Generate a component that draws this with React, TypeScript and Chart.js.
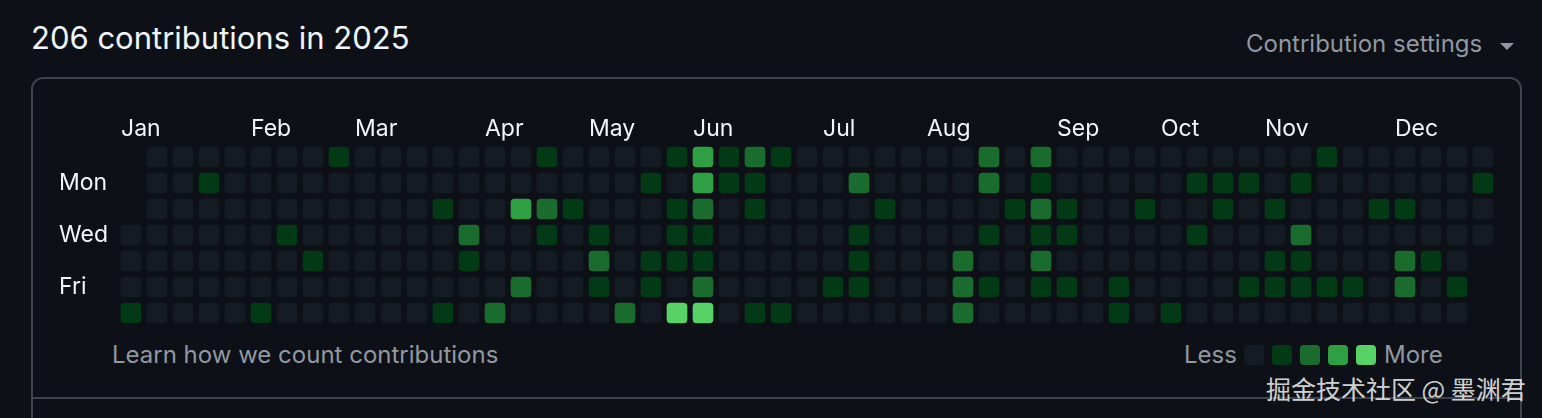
import React, { useEffect, useRef } from 'react';
import { Chart, registerables } from 'chart.js';

Chart.register(...registerables);

const TOTAL = 206;
const YEAR = 2025;
const MONTHS = ['Jan', 'Feb', 'Mar', 'Apr', 'May', 'Jun', 'Jul', 'Aug', 'Sep', 'Oct', 'Nov', 'Dec'];
const MONTH_START_WEEK = [0, 5, 9, 14, 18, 22, 27, 31, 36, 40, 44, 49];
const DAY_NAMES = ['Sun', 'Mon', 'Tue', 'Wed', 'Thu', 'Fri', 'Sat'];
const DAY_LABELS = ['', 'Mon', '', 'Wed', '', 'Fri', ''];
const LEVEL_COLORS = ['#151b23', '#033a16', '#196c2e', '#2ea043', '#56d364'];

// contribution level per week (53 weeks), one array per weekday; null = outside 2025
const SUN = [null,0,0,0,0,0,0,0,1,0, 0,0,0,0,0,0,1,0,0,0, 0,1,3,1,2,1,0,0,0,0, 0,0,0,2,0,2,0,0,0,0, 0,0,0,0,0,0,1,0,0,0, 0,0,0];
const MON = [null,0,0,1,0,0,0,0,0,0, 0,0,0,0,0,0,0,0,0,0, 1,0,3,1,1,0,0,0,2,0, 0,0,0,2,0,1,0,0,0,0, 0,1,1,1,0,1,0,0,0,0, 0,0,1];
const TUE = [null,0,0,0,0,0,0,0,0,0, 0,0,1,0,0,3,2,1,0,0, 0,1,2,0,1,0,0,0,0,1, 0,0,0,0,1,2,1,0,0,1, 0,0,1,0,1,0,0,0,1,1, 0,0,0];
const WED = [0,0,0,0,0,0,1,0,0,0, 0,0,0,2,0,0,1,0,1,0, 0,1,1,0,0,0,0,0,1,0, 0,0,0,1,0,1,1,0,0,0, 0,1,0,0,0,2,0,0,0,0, 0,0,0];
const THU = [0,0,0,0,0,0,0,1,0,0, 0,0,0,1,0,0,0,0,2,0, 1,1,1,0,0,0,0,0,1,0, 0,0,2,0,0,2,0,0,0,0, 0,0,0,0,1,1,0,0,0,2, 1,0,null];
const FRI = [0,0,0,0,0,0,0,0,0,0, 0,0,0,0,0,2,0,0,1,0, 1,0,2,0,0,0,0,1,1,0, 0,0,2,1,0,1,1,0,1,0, 0,0,0,1,1,1,1,1,0,2, 0,1,null];
const SAT = [1,0,0,0,0,1,0,0,0,0, 0,0,1,0,2,0,0,0,0,2, 0,4,4,0,1,1,0,0,0,0, 0,0,2,0,0,0,0,0,1,0, 1,0,0,0,0,0,0,0,0,0, 0,0,null];

const TEXT = '#f0f6fc';
const MUTED = '#9198a1';
const BORDER = '#3d444d';

export default function App() {
  const ref = useRef<HTMLCanvasElement>(null);

  useEffect(() => {
    const rows = [SUN, MON, TUE, WED, THU, FRI, SAT];
    const weeks = SUN.map((_, i) => `W${i + 1}`);
    const HALF = 10 / 26;
    const chart = new Chart(ref.current as HTMLCanvasElement, {
      type: 'bar',
      data: {
        labels: weeks,
        datasets: rows.map((row, r) => ({
          label: DAY_NAMES[r],
          data: row.map((v) => (v === null ? null : [r - HALF, r + HALF])) as any,
          backgroundColor: row.map((v) => LEVEL_COLORS[v ?? 0]),
          borderRadius: 4,
          borderSkipped: false,
          borderWidth: 0,
          barThickness: 20,
          grouped: false,
        })),
      },
      options: {
        animation: false,
        responsive: false,
        maintainAspectRatio: false,
        layout: { padding: 0 },
        plugins: { legend: { display: false }, tooltip: { enabled: false } },
        scales: {
          x: {
            position: 'top',
            grid: { display: false, drawTicks: false },
            border: { display: false },
            ticks: {
              autoSkip: false,
              maxRotation: 0,
              minRotation: 0,
              align: 'start',
              labelOffset: -10,
              padding: 1,
              color: TEXT,
              font: { family: 'Inter', size: 23 },
              callback: (_v: any, i: number) => {
                const m = MONTH_START_WEEK.indexOf(i);
                return m >= 0 ? MONTHS[m] : '';
              },
            },
            afterFit: (s: any) => {
              s.height = 44;
              s.paddingLeft = 0;
              s.paddingRight = 0;
            },
          },
          y: {
            type: 'linear',
            min: -0.5,
            max: 6.5,
            reverse: true,
            grid: { display: false, drawTicks: false },
            border: { display: false },
            afterBuildTicks: (s: any) => {
              s.ticks = DAY_LABELS.map((_, i) => ({ value: i }));
            },
            ticks: {
              autoSkip: false,
              crossAlign: 'far',
              padding: 0,
              color: TEXT,
              font: { family: 'Inter', size: 23 },
              callback: (v: any) => DAY_LABELS[v] ?? '',
            },
            afterFit: (s: any) => {
              s.width = 59;
              s.paddingTop = 0;
              s.paddingBottom = 0;
            },
          },
        },
      } as any,
    });
    return () => chart.destroy();
  }, []);

  const abs = (o: React.CSSProperties): React.CSSProperties => ({ position: 'absolute', margin: 0, whiteSpace: 'nowrap', ...o });

  return (
    <div style={{ position: 'absolute', left: 0, top: 0, width: 1542, height: 418, background: '#0d1117', overflow: 'hidden', fontFamily: 'Inter, sans-serif' }}>
      <div style={abs({ left: 31, top: 22, fontSize: 31, lineHeight: '32px', color: TEXT })}>
        {`${TOTAL} contributions in ${YEAR}`}
      </div>
      <div style={abs({ left: 1246, top: 32, fontSize: 24, lineHeight: '24px', color: MUTED })}>Contribution settings</div>
      <div style={abs({ left: 1500, top: 43, width: 0, height: 0, borderLeft: '7px solid transparent', borderRight: '7px solid transparent', borderTop: '7px solid ' + MUTED })} />
      <div style={abs({ left: 31, top: 77, width: 1491, height: 420, border: '2px solid ' + BORDER, borderRadius: 12, boxSizing: 'border-box' })} />
      <div style={abs({ left: 31, top: 397, width: 1491, height: 2, background: BORDER })} />
      <canvas ref={ref} width={1437} height={226} style={abs({ left: 59, top: 100, width: 1437, height: 226 })} />
      <div style={abs({ left: 112, top: 343, fontSize: 24, lineHeight: '24px', color: MUTED })}>Learn how we count contributions</div>
      <div style={abs({ left: 1184, top: 343, fontSize: 24, lineHeight: '24px', color: MUTED })}>Less</div>
      {LEVEL_COLORS.map((c, i) => (
        <div key={i} style={abs({ left: 1244 + i * 28, top: 345, width: 20, height: 20, borderRadius: 4, background: c })} />
      ))}
      <div style={abs({ left: 1384, top: 343, fontSize: 24, lineHeight: '24px', color: MUTED })}>More</div>
      <div style={abs({ left: 1266, top: 375, fontSize: 25, lineHeight: '26px', color: 'rgba(235,235,235,0.9)', fontFamily: '"Noto Sans CJK SC", sans-serif' })}>
        掘金技术社区 @ 墨渊君
      </div>
    </div>
  );
}
